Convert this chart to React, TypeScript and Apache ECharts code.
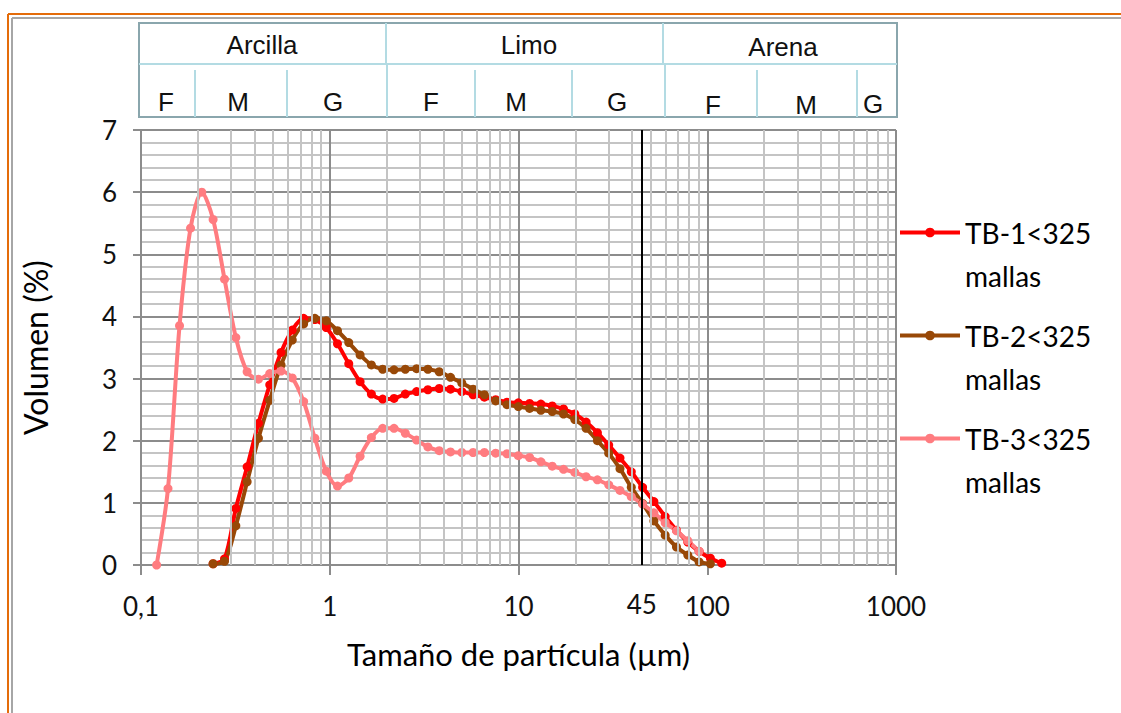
import React, { useEffect, useRef } from "react";
import * as echarts from "echarts";

// Particle sizes (µm), shared measurement channels
const sizes = [
  0.121, 0.139, 0.160, 0.183, 0.210, 0.241, 0.277, 0.318, 0.365, 0.419,
  0.481, 0.552, 0.633, 0.727, 0.834, 0.958, 1.099, 1.261, 1.448, 1.662,
  1.908, 2.190, 2.514, 2.885, 3.311, 3.801, 4.363, 5.008, 5.748, 6.597,
  7.572, 8.691, 9.976, 11.45, 13.14, 15.09, 17.32, 19.88, 22.81, 26.18,
  30.05, 34.49, 39.59, 45.44, 52.16, 59.86, 68.71, 78.88, 90.55, 103.9, 119.3,
];

const tb1 = [
  null, null, null, null, null, 0.02, 0.10, 0.91, 1.58, 2.28,
  2.90, 3.42, 3.78, 3.97, 3.95, 3.82, 3.56, 3.24, 2.95, 2.75,
  2.67, 2.68, 2.75, 2.79, 2.82, 2.84, 2.83, 2.79, 2.74, 2.70,
  2.66, 2.62, 2.61, 2.60, 2.59, 2.56, 2.51, 2.43, 2.30, 2.13,
  1.93, 1.72, 1.50, 1.25, 1.02, 0.78, 0.56, 0.37, 0.22, 0.11, 0.03,
];

const tb2 = [
  null, null, null, null, null, 0.02, 0.06, 0.63, 1.34, 2.04,
  2.65, 3.22, 3.62, 3.88, 3.97, 3.93, 3.77, 3.58, 3.38, 3.22,
  3.15, 3.14, 3.15, 3.16, 3.15, 3.11, 3.02, 2.93, 2.83, 2.74,
  2.64, 2.58, 2.55, 2.52, 2.49, 2.47, 2.43, 2.34, 2.20, 2.00,
  1.80, 1.55, 1.25, 0.99, 0.71, 0.48, 0.29, 0.16, 0.05, 0.02, null,
];

const tb3 = [
  0.00, 1.23, 3.85, 5.42, 6.00, 5.56, 4.60, 3.66, 3.11, 2.99,
  3.08, 3.12, 3.01, 2.63, 2.04, 1.51, 1.27, 1.40, 1.75, 2.05,
  2.20, 2.20, 2.12, 2.01, 1.90, 1.84, 1.82, 1.81, 1.81, 1.81,
  1.80, 1.79, 1.76, 1.73, 1.66, 1.59, 1.54, 1.49, 1.42, 1.37,
  1.29, 1.20, 1.10, 0.98, 0.84, 0.68, 0.55, 0.39, 0.22, null, null,
];

const seriesNames = ["TB-1<325\nmallas", "TB-2<325\nmallas", "TB-3<325\nmallas"];
const seriesColors = ["#ff0000", "#984807", "#ff7c80"];
const seriesValues = [tb1, tb2, tb3];

const xMin = 0.1;
const xMax = 1000;
const yMin = 0;
const yMax = 7;
const yInterval = 1;
const refSize = 45;
const xName = "Tamaño de partícula (µm)";
const yName = "Volumen (%)";

// Header table (size classes)
const classNames = ["Arcilla", "Limo", "Arena"];
const subClassNames = ["F", "M", "G", "F", "M", "G", "F", "M", "G"];

const FONT = "Lato";
const MAJOR = "#8c8c8c";
const MINOR = "#c4c4c4";

export default function App() {
  const ref = useRef<HTMLDivElement>(null);

  useEffect(() => {
    const chart = echarts.init(ref.current!, null, { renderer: "svg" });

    const minorXs: number[] = [];
    for (let d = -1; d < 3; d++) {
      for (let m = 2; m <= 9; m++) minorXs.push(Number((m * Math.pow(10, d)).toPrecision(6)));
    }

    const dataSeries = seriesValues.map((vals, si) => ({
      type: "line",
      name: seriesNames[si],
      data: sizes
        .map((s, i) => (vals[i] === null ? null : [s, vals[i]]))
        .filter((p) => p !== null),
      smooth: 0.3,
      symbol: "circle",
      symbolSize: 9,
      showSymbol: true,
      lineStyle: { width: 4, color: seriesColors[si] },
      itemStyle: { color: seriesColors[si] },
      z: 4,
    }));

    // header graphic
    const hx0 = 139, hx1 = 897, hy0 = 23, hyMid = 64, hy1 = 117;
    const outer = "#8aa6ad";
    const inner = "#b3dbe3";
    const topDividers = [386, 663];
    const bottomDividers = [195, 287, 387, 475, 572, 665, 757, 857];
    const classPos = [[262, 45], [529, 45], [783, 47]];
    const subPos = [[166, 102], [238, 102], [333, 102], [431, 102], [516, 102], [617, 102], [713, 105], [806, 105], [873, 104]];
    const headerFont = "26px 'Liberation Sans', Arial, sans-serif";

    const graphic: any[] = [
      // outer frames
      { type: "line", shape: { x1: 8, y1: 14, x2: 1121, y2: 14 }, style: { stroke: "#e46c0a", lineWidth: 2 }, z: 100 },
      { type: "line", shape: { x1: 8, y1: 14, x2: 8, y2: 713 }, style: { stroke: "#e46c0a", lineWidth: 2 }, z: 100 },
      { type: "line", shape: { x1: 12, y1: 18, x2: 1121, y2: 18 }, style: { stroke: "#a6a6a6", lineWidth: 2 }, z: 100 },
      { type: "line", shape: { x1: 12, y1: 18, x2: 12, y2: 713 }, style: { stroke: "#a6a6a6", lineWidth: 2 }, z: 100 },
      { type: "rect", shape: { x: hx0, y: hy0, width: hx1 - hx0, height: hy1 - hy0 }, style: { fill: "#fff", stroke: outer, lineWidth: 2 }, z: 100 },
      { type: "line", shape: { x1: hx0, y1: hyMid, x2: hx1, y2: hyMid }, style: { stroke: inner, lineWidth: 2 }, z: 101 },
      ...topDividers.map((x) => ({ type: "line", shape: { x1: x, y1: hy0, x2: x, y2: hyMid }, style: { stroke: inner, lineWidth: 2 }, z: 101 })),
      ...bottomDividers.map((x) => ({ type: "line", shape: { x1: x, y1: hyMid + (x === 387 || x === 665 ? 0 : 6), x2: x, y2: hy1 }, style: { stroke: inner, lineWidth: 2 }, z: 101 })),
      ...classNames.map((t, i) => ({
        type: "text", x: classPos[i][0], y: classPos[i][1], z: 102,
        style: { text: t, font: headerFont, fill: "#111", align: "center", verticalAlign: "middle" },
      })),
      ...subClassNames.map((t, i) => ({
        type: "text", x: subPos[i][0], y: subPos[i][1], z: 102,
        style: { text: t, font: headerFont, fill: "#111", align: "center", verticalAlign: "middle" },
      })),
    ];

    const option: any = {
      animation: false,
      backgroundColor: "#ffffff",
      textStyle: { fontFamily: FONT },
      grid: { left: 141, right: 225, top: 130, bottom: 148, containLabel: false },
      legend: {
        orient: "vertical",
        left: 898,
        top: 168,
        padding: 0,
        itemGap: -26,
        itemWidth: 60,
        itemHeight: 12,
        data: seriesNames,
        lineStyle: { width: 4 },
        formatter: (name: string) => "\u00a0\n" + name,
        textStyle: { fontFamily: FONT, fontSize: 28, lineHeight: 43, color: "#000" },
      },
      xAxis: {
        type: "log",
        logBase: 10,
        min: xMin,
        max: xMax,
        splitNumber: 4,
        axisLine: { show: true, onZero: false, lineStyle: { color: MAJOR, width: 2 } },
        axisTick: { show: true, length: 10, lineStyle: { color: MAJOR, width: 2 } },
        axisLabel: {
          margin: 28,
          fontFamily: FONT,
          fontSize: 26,
          color: "#111",
          formatter: (v: number) => String(Number(v.toPrecision(6))).replace(".", ","),
        },
        splitLine: { show: true, lineStyle: { color: MAJOR, width: 2 } },
        name: xName,
        nameLocation: "middle",
        nameGap: 73,
        nameTextStyle: { fontFamily: FONT, fontSize: 31, color: "#000" },
      },
      yAxis: {
        type: "value",
        min: yMin,
        max: yMax,
        interval: yInterval,
        axisLine: { show: true, lineStyle: { color: MAJOR, width: 2 } },
        axisTick: { show: true, length: 8, lineStyle: { color: MAJOR, width: 2 } },
        axisLabel: { margin: 24, fontFamily: FONT, fontSize: 26, color: "#111" },
        splitLine: { show: true, lineStyle: { color: MAJOR, width: 2 } },
        minorTick: { show: false, splitNumber: 5 },
        minorSplitLine: { show: true, lineStyle: { color: MINOR, width: 2 } },
        name: yName,
        nameLocation: "middle",
        nameGap: 90,
        nameTextStyle: { fontFamily: FONT, fontSize: 32, color: "#000" },
      },
      series: [
        {
          type: "line",
          name: "minor-x",
          data: [],
          z: 1,
          silent: true,
          markLine: {
            silent: true,
            symbol: ["none", "none"],
            animation: false,
            label: { show: false },
            lineStyle: { color: MINOR, width: 2, type: "solid" },
            emphasis: { disabled: true },
            data: minorXs.map((v) => ({ xAxis: v })),
          },
        },
        {
          type: "line",
          name: "ref-45",
          data: [],
          z: 3,
          silent: true,
          markLine: {
            silent: true,
            symbol: ["none", "none"],
            animation: false,
            label: {
              show: true,
              position: "start",
              formatter: String(refSize),
              fontFamily: FONT,
              fontSize: 26,
              color: "#111",
              distance: 26,
            },
            lineStyle: { color: "#000", width: 2, type: "solid" },
            emphasis: { disabled: true },
            data: [{ xAxis: refSize }],
          },
        },
        ...dataSeries,
      ],
      graphic,
    };

    chart.setOption(option);
    return () => chart.dispose();
  }, []);

  return (
    <div
      ref={ref}
      style={{ position: "fixed", left: 0, top: 0, width: 1121, height: 713, background: "#fff" }}
    />
  );
}
